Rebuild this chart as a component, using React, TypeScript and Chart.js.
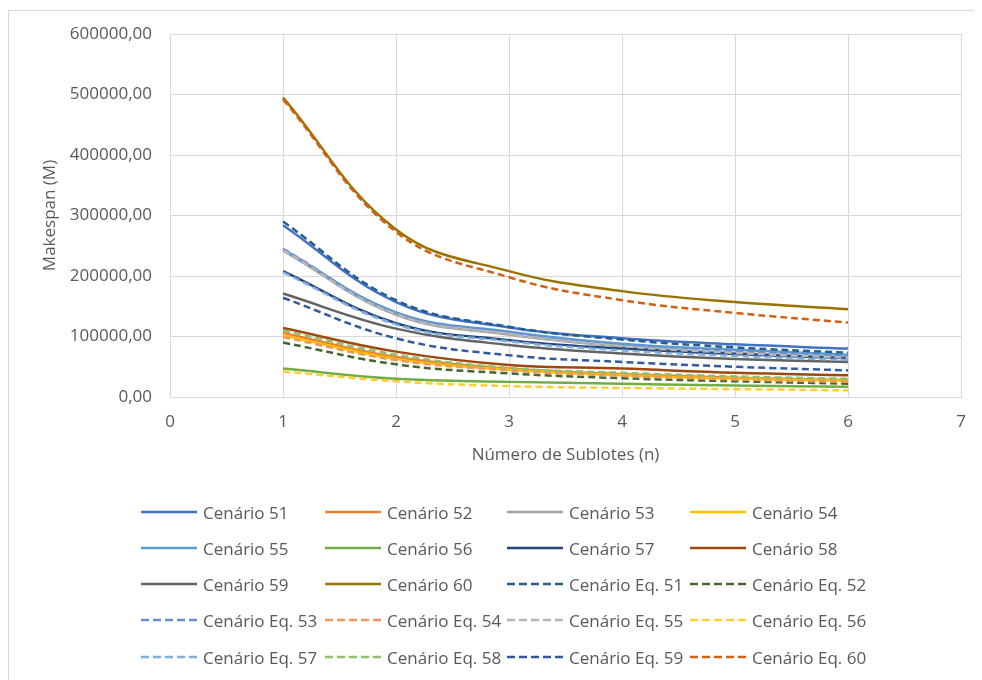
import React, { useEffect, useRef } from "react";
import { Chart, registerables } from "chart.js";
Chart.register(...registerables);

const sublotes = [1, 2, 3, 4, 5, 6];
const yTicks = [0, 100000, 200000, 300000, 400000, 500000, 600000];

const cen51 = [284000, 157000, 115000, 97000, 87000, 80000];
const cen52 = [106000, 66000, 47000, 38000, 32000, 28000];
const cen53 = [242000, 136000, 103000, 84000, 73000, 66000];
const cen54 = [102000, 63000, 45000, 36000, 30000, 27000];
const cen55 = [244000, 140000, 108000, 88000, 78000, 70000];
const cen56 = [47000, 30000, 25000, 22000, 19000, 17000];
const cen57 = [208000, 122000, 94000, 80000, 71000, 64000];
const cen58 = [114000, 75000, 53000, 47000, 40000, 36000];
const cen59 = [171000, 113000, 86000, 72000, 63000, 58000];
const cen60 = [495000, 277000, 208000, 175000, 157000, 145000];
const eq51 = [290000, 160000, 116000, 95000, 82000, 73000];
const eq52 = [90000, 54000, 39000, 31000, 26000, 22000];
const eq53 = [245000, 139000, 106000, 86000, 76000, 68000];
const eq54 = [99000, 61000, 44000, 35000, 29000, 25000];
const eq55 = [243000, 137000, 104000, 84000, 73000, 65000];
const eq56 = [42000, 26000, 18000, 15000, 13000, 11000];
const eq57 = [206000, 120000, 92000, 77000, 68000, 61000];
const eq58 = [110000, 70000, 48000, 40000, 34000, 30000];
const eq59 = [164000, 97000, 69000, 58000, 50000, 44000];
const eq60 = [492000, 273000, 198000, 160000, 139000, 123000];

const seriesNames = [
  "Cenário 51", "Cenário 52", "Cenário 53", "Cenário 54", "Cenário 55",
  "Cenário 56", "Cenário 57", "Cenário 58", "Cenário 59", "Cenário 60",
  "Cenário Eq. 51", "Cenário Eq. 52", "Cenário Eq. 53", "Cenário Eq. 54", "Cenário Eq. 55",
  "Cenário Eq. 56", "Cenário Eq. 57", "Cenário Eq. 58", "Cenário Eq. 59", "Cenário Eq. 60",
];
const seriesValues = [
  cen51, cen52, cen53, cen54, cen55, cen56, cen57, cen58, cen59, cen60,
  eq51, eq52, eq53, eq54, eq55, eq56, eq57, eq58, eq59, eq60,
];
const seriesColors = [
  "#4472C4", "#ED7D31", "#A5A5A5", "#FFC000", "#5B9BD5",
  "#70AD47", "#264478", "#9E480E", "#636363", "#997300",
  "#255E91", "#43682B", "#698ED0", "#F1975A", "#B7B7B7",
  "#FFCD33", "#7CAFDD", "#8CC168", "#335AA1", "#D26012",
];
const seriesDashed = seriesNames.map((n) => n.includes("Eq."));

const FONT = "'Open Sans', 'Noto Sans', sans-serif";
const TEXT = "#595959";
const GRID = "#d9d9d9";

const W = 974;
const H = 670;
const legendRows = [502, 538, 574, 610, 647];
const legendCols = [133, 317, 499, 682];

export default function App() {
  const ref = useRef<HTMLCanvasElement | null>(null);

  useEffect(() => {
    if (!ref.current) return;
    const chart = new Chart(ref.current, {
      type: "line",
      data: {
        datasets: seriesNames.map((name, i) => ({
          label: name,
          data: sublotes.map((x, j) => ({ x, y: seriesValues[i][j] })),
          borderColor: seriesColors[i],
          backgroundColor: seriesColors[i],
          borderWidth: 2.5,
          borderDash: seriesDashed[i] ? [7, 4] : [],
          pointRadius: 0,
          tension: 0.4,
          fill: false,
          order: seriesNames.length - i,
        })),
      },
      options: {
        animation: false,
        responsive: false,
        maintainAspectRatio: false,
        layout: { padding: { top: 24, right: 21, bottom: H - 387 - 68, left: 0 } },
        plugins: { legend: { display: false }, tooltip: { enabled: false } },
        scales: {
          x: {
            type: "linear",
            min: 0,
            max: 7,
            ticks: { stepSize: 1, padding: 15, color: TEXT, font: { family: FONT, size: 17 } },
            grid: { color: GRID, drawTicks: false, lineWidth: 1 },
            border: { color: GRID },
            title: {
              display: true,
              text: "Número de Sublotes (n)",
              color: TEXT,
              font: { family: FONT, size: 17 },
              padding: { top: 0, bottom: 0 },
            },
            afterFit: (s: any) => {
              s.height = 68;
              s.paddingLeft = 0;
              s.paddingRight = 0;
            },
          },
          y: {
            type: "linear",
            min: 0,
            max: 600000,
            afterBuildTicks: (s: any) => {
              s.ticks = yTicks.map((v) => ({ value: v }));
            },
            ticks: {
              padding: 18,
              color: TEXT,
              font: { family: FONT, size: 17 },
              callback: (v: any) => Number(v).toFixed(2).replace(".", ","),
            },
            grid: { color: GRID, drawTicks: false, lineWidth: 1 },
            border: { color: GRID },
            title: {
              display: true,
              text: "Makespan (M)",
              color: TEXT,
              font: { family: FONT, size: 17 },
              padding: { top: 32, bottom: 0 },
            },
            afterFit: (s: any) => {
              s.width = 162;
              s.paddingTop = 0;
              s.paddingBottom = 0;
            },
          },
        },
      },
    });
    return () => chart.destroy();
  }, []);

  return (
    <div style={{ position: "relative", width: W, height: H, marginTop: 2, background: "#fff" }}>
      <canvas ref={ref} width={W} height={H} style={{ position: "absolute", left: 0, top: 0, width: W, height: H }} />
      <div
        style={{
          position: "absolute",
          left: 0,
          top: 0,
          width: W,
          height: H,
          borderTop: "1px solid #d9d9d9",
          borderLeft: "1px solid #d9d9d9",
          borderRight: "1px solid #d9d9d9",
          boxSizing: "border-box",
          pointerEvents: "none",
        }}
      />
      {seriesNames.map((name, i) => {
        const row = Math.floor(i / 4);
        const col = i % 4;
        return (
          <div
            key={name}
            style={{
              position: "absolute",
              left: legendCols[col],
              top: legendRows[row] - 12,
              height: 24,
              display: "flex",
              alignItems: "center",
              whiteSpace: "nowrap",
            }}
          >
            <svg width={56} height={6} style={{ display: "block" }}>
              <line
                x1={0}
                y1={3}
                x2={56}
                y2={3}
                stroke={seriesColors[i]}
                strokeWidth={2.5}
                strokeDasharray={seriesDashed[i] ? "8 4" : undefined}
              />
            </svg>
            <span style={{ marginLeft: 6, fontFamily: FONT, fontSize: 17, color: TEXT }}>{name}</span>
          </div>
        );
      })}
    </div>
  );
}
